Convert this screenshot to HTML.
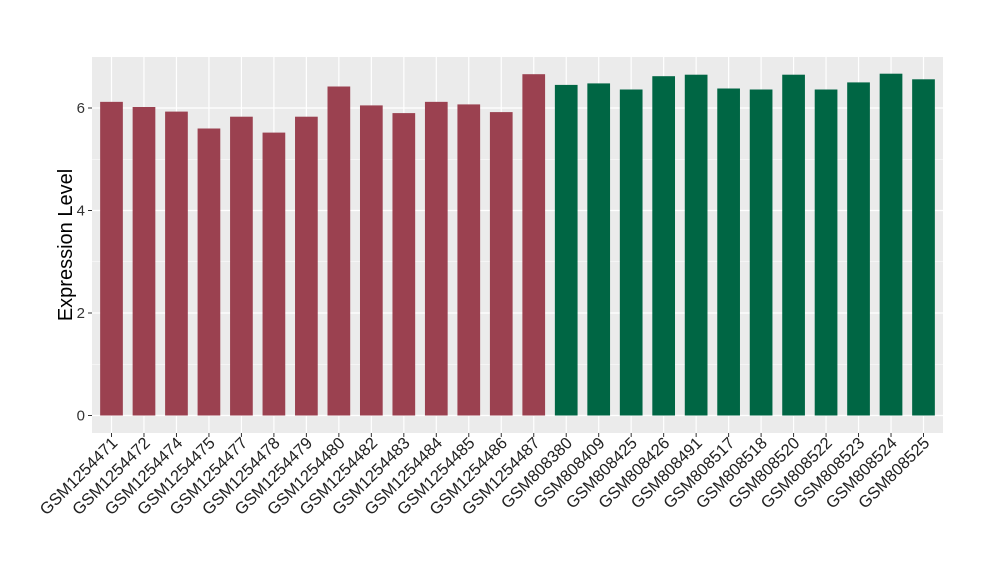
<!DOCTYPE html>
<html><head><meta charset="utf-8"><style>body{margin:0;background:#fff}svg{display:block;font-family:"Liberation Sans",Arial,sans-serif}</style></head>
<body>
<svg width="1000" height="580" viewBox="0 0 1000 580" xmlns="http://www.w3.org/2000/svg">
<rect x="92" y="57" width="851" height="376" fill="#EBEBEB"/>
<g stroke="#fff" stroke-width="0.6">
<line x1="92" x2="943" y1="364.25" y2="364.25"/><line x1="92" x2="943" y1="261.75" y2="261.75"/><line x1="92" x2="943" y1="159.25" y2="159.25"/>
</g>
<g stroke="#fff" stroke-width="1.2">
<line x1="92" x2="943" y1="415.5" y2="415.5"/><line x1="92" x2="943" y1="313" y2="313"/><line x1="92" x2="943" y1="210.5" y2="210.5"/><line x1="92" x2="943" y1="108" y2="108"/>
<line x1="111.5" x2="111.5" y1="57" y2="433"/><line x1="143.98" x2="143.98" y1="57" y2="433"/><line x1="176.46" x2="176.46" y1="57" y2="433"/><line x1="208.94" x2="208.94" y1="57" y2="433"/><line x1="241.42" x2="241.42" y1="57" y2="433"/><line x1="273.9" x2="273.9" y1="57" y2="433"/><line x1="306.38" x2="306.38" y1="57" y2="433"/><line x1="338.86" x2="338.86" y1="57" y2="433"/><line x1="371.34" x2="371.34" y1="57" y2="433"/><line x1="403.82" x2="403.82" y1="57" y2="433"/><line x1="436.3" x2="436.3" y1="57" y2="433"/><line x1="468.78" x2="468.78" y1="57" y2="433"/><line x1="501.26" x2="501.26" y1="57" y2="433"/><line x1="533.74" x2="533.74" y1="57" y2="433"/><line x1="566.22" x2="566.22" y1="57" y2="433"/><line x1="598.7" x2="598.7" y1="57" y2="433"/><line x1="631.18" x2="631.18" y1="57" y2="433"/><line x1="663.66" x2="663.66" y1="57" y2="433"/><line x1="696.14" x2="696.14" y1="57" y2="433"/><line x1="728.62" x2="728.62" y1="57" y2="433"/><line x1="761.1" x2="761.1" y1="57" y2="433"/><line x1="793.58" x2="793.58" y1="57" y2="433"/><line x1="826.06" x2="826.06" y1="57" y2="433"/><line x1="858.54" x2="858.54" y1="57" y2="433"/><line x1="891.02" x2="891.02" y1="57" y2="433"/><line x1="923.5" x2="923.5" y1="57" y2="433"/>
</g>
<g fill="#9B4150">
<rect x="100.15" y="101.85" width="22.7" height="313.65"/>
<rect x="132.63" y="107.0" width="22.7" height="308.5"/>
<rect x="165.11" y="111.6" width="22.7" height="303.9"/>
<rect x="197.59" y="128.5" width="22.7" height="287.0"/>
<rect x="230.07" y="116.7" width="22.7" height="298.8"/>
<rect x="262.55" y="132.6" width="22.7" height="282.9"/>
<rect x="295.03" y="116.7" width="22.7" height="298.8"/>
<rect x="327.51" y="86.5" width="22.7" height="329.0"/>
<rect x="359.99" y="105.4" width="22.7" height="310.1"/>
<rect x="392.47" y="113.1" width="22.7" height="302.4"/>
<rect x="424.95" y="101.85" width="22.7" height="313.65"/>
<rect x="457.43" y="104.4" width="22.7" height="311.1"/>
<rect x="489.91" y="112.1" width="22.7" height="303.4"/>
<rect x="522.39" y="74.2" width="22.7" height="341.3"/>
</g>
<g fill="#006644">
<rect x="554.87" y="84.9" width="22.7" height="330.6"/>
<rect x="587.35" y="83.4" width="22.7" height="332.1"/>
<rect x="619.83" y="89.5" width="22.7" height="326.0"/>
<rect x="652.31" y="76.2" width="22.7" height="339.3"/>
<rect x="684.79" y="74.7" width="22.7" height="340.8"/>
<rect x="717.27" y="88.5" width="22.7" height="327.0"/>
<rect x="749.75" y="89.5" width="22.7" height="326.0"/>
<rect x="782.23" y="74.7" width="22.7" height="340.8"/>
<rect x="814.71" y="89.5" width="22.7" height="326.0"/>
<rect x="847.19" y="82.4" width="22.7" height="333.1"/>
<rect x="879.67" y="73.7" width="22.7" height="341.8"/>
<rect x="912.15" y="79.3" width="22.7" height="336.2"/>
</g>
<g stroke="#333" stroke-width="1">
<line x1="88" x2="92" y1="415.5" y2="415.5"/><line x1="88" x2="92" y1="313" y2="313"/><line x1="88" x2="92" y1="210.5" y2="210.5"/><line x1="88" x2="92" y1="108" y2="108"/>
</g>
<g font-size="15" fill="#333" text-anchor="end">
<text x="85" y="420.5">0</text><text x="85" y="318">2</text><text x="85" y="215.5">4</text><text x="85" y="113">6</text>
</g>
<text transform="translate(72,245) rotate(-90)" font-size="20" text-anchor="middle" fill="#000">Expression Level</text>
<g font-size="16.5" fill="#222" text-anchor="end">
<text transform="translate(118.5,444) rotate(-45)">GSM1254471</text>
<text transform="translate(150.98,444) rotate(-45)">GSM1254472</text>
<text transform="translate(183.46,444) rotate(-45)">GSM1254474</text>
<text transform="translate(215.94,444) rotate(-45)">GSM1254475</text>
<text transform="translate(248.42,444) rotate(-45)">GSM1254477</text>
<text transform="translate(280.9,444) rotate(-45)">GSM1254478</text>
<text transform="translate(313.38,444) rotate(-45)">GSM1254479</text>
<text transform="translate(345.86,444) rotate(-45)">GSM1254480</text>
<text transform="translate(378.34,444) rotate(-45)">GSM1254482</text>
<text transform="translate(410.82,444) rotate(-45)">GSM1254483</text>
<text transform="translate(443.3,444) rotate(-45)">GSM1254484</text>
<text transform="translate(475.78,444) rotate(-45)">GSM1254485</text>
<text transform="translate(508.26,444) rotate(-45)">GSM1254486</text>
<text transform="translate(540.74,444) rotate(-45)">GSM1254487</text>
<text transform="translate(573.22,444) rotate(-45)">GSM808380</text>
<text transform="translate(605.7,444) rotate(-45)">GSM808409</text>
<text transform="translate(638.18,444) rotate(-45)">GSM808425</text>
<text transform="translate(670.66,444) rotate(-45)">GSM808426</text>
<text transform="translate(703.14,444) rotate(-45)">GSM808491</text>
<text transform="translate(735.62,444) rotate(-45)">GSM808517</text>
<text transform="translate(768.1,444) rotate(-45)">GSM808518</text>
<text transform="translate(800.58,444) rotate(-45)">GSM808520</text>
<text transform="translate(833.06,444) rotate(-45)">GSM808522</text>
<text transform="translate(865.54,444) rotate(-45)">GSM808523</text>
<text transform="translate(898.02,444) rotate(-45)">GSM808524</text>
<text transform="translate(930.5,444) rotate(-45)">GSM808525</text>
</g>
<g stroke="#333" stroke-width="1">
<line x1="111.5" x2="111.5" y1="433" y2="437"/><line x1="143.98" x2="143.98" y1="433" y2="437"/><line x1="176.46" x2="176.46" y1="433" y2="437"/><line x1="208.94" x2="208.94" y1="433" y2="437"/><line x1="241.42" x2="241.42" y1="433" y2="437"/><line x1="273.9" x2="273.9" y1="433" y2="437"/><line x1="306.38" x2="306.38" y1="433" y2="437"/><line x1="338.86" x2="338.86" y1="433" y2="437"/><line x1="371.34" x2="371.34" y1="433" y2="437"/><line x1="403.82" x2="403.82" y1="433" y2="437"/><line x1="436.3" x2="436.3" y1="433" y2="437"/><line x1="468.78" x2="468.78" y1="433" y2="437"/><line x1="501.26" x2="501.26" y1="433" y2="437"/><line x1="533.74" x2="533.74" y1="433" y2="437"/><line x1="566.22" x2="566.22" y1="433" y2="437"/><line x1="598.7" x2="598.7" y1="433" y2="437"/><line x1="631.18" x2="631.18" y1="433" y2="437"/><line x1="663.66" x2="663.66" y1="433" y2="437"/><line x1="696.14" x2="696.14" y1="433" y2="437"/><line x1="728.62" x2="728.62" y1="433" y2="437"/><line x1="761.1" x2="761.1" y1="433" y2="437"/><line x1="793.58" x2="793.58" y1="433" y2="437"/><line x1="826.06" x2="826.06" y1="433" y2="437"/><line x1="858.54" x2="858.54" y1="433" y2="437"/><line x1="891.02" x2="891.02" y1="433" y2="437"/><line x1="923.5" x2="923.5" y1="433" y2="437"/>
</g>
</svg>
</body></html>
